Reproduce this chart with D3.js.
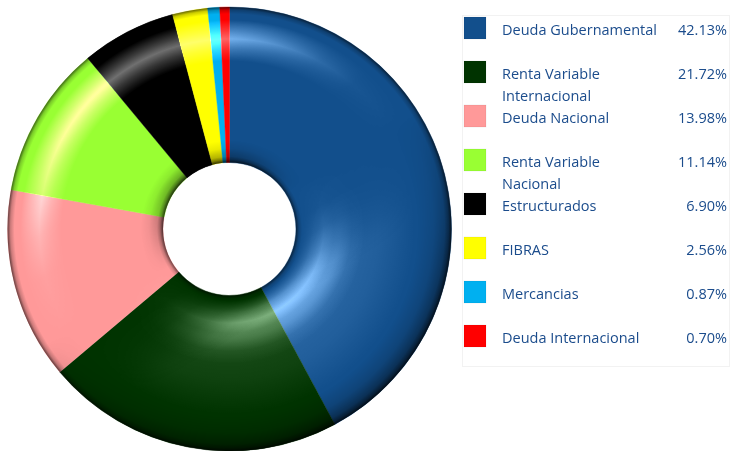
<!DOCTYPE html>
<html>
<head>
<meta charset="utf-8">
<script src="https://cdn.jsdelivr.net/npm/d3@7"></script>
<style>
  body { margin: 0; background: #fff; }
  svg { display: block; }
</style>
</head>
<body>
<svg id="chart"></svg>
<script>
// data
var categories = ["Deuda Gubernamental", "Renta Variable Internacional", "Deuda Nacional",
    "Renta Variable Nacional", "Estructurados", "FIBRAS", "Mercancias", "Deuda Internacional"];
var shares = [42.13, 21.72, 13.98, 11.14, 6.90, 2.56, 0.87, 0.70];
var colors = ["#124f8c", "#003300", "#ff9999", "#99ff33", "#000000", "#ffff00", "#00b0f0", "#ff0000"];

var width = 731, height = 451;
var cx = 229.5, cy = 229, outerR = 222, innerR = 66.5;

var svg = d3.select('#chart')
    .attr("width", width)
    .attr("height", height);

var defs = svg.append('defs');

// light comes from the top left (angle measured clockwise from 12 o'clock)
var lightAngle = 328 * Math.PI / 180;
var lx = Math.sin(lightAngle) * outerR, ly = -Math.cos(lightAngle) * outerR;

// radial profiles: [radius, opacity]
function radial(id, stops) {
    var g = defs.append('radialGradient')
        .attr('id', id)
        .attr('gradientUnits', 'userSpaceOnUse')
        .attr('cx', 0).attr('cy', 0).attr('r', outerR);
    g.selectAll('stop')
        .data(stops)
        .enter()
        .append('stop')
        .attr('offset', d => d[0] / outerR)
        .attr('stop-color', d => d[2] || '#fff')
        .attr('stop-opacity', d => d[1]);
}

// directional masks: [offset along light axis, opacity]
function dirMask(id, stops) {
    var g = defs.append('linearGradient')
        .attr('id', id + 'G')
        .attr('gradientUnits', 'userSpaceOnUse')
        .attr('x1', lx).attr('y1', ly)
        .attr('x2', -lx).attr('y2', -ly);
    g.selectAll('stop')
        .data(stops)
        .enter()
        .append('stop')
        .attr('offset', d => d[0])
        .attr('stop-color', '#fff')
        .attr('stop-opacity', d => d[1]);
    defs.append('mask')
        .attr('id', id)
        .attr('maskUnits', 'userSpaceOnUse')
        .attr('x', -outerR - 2).attr('y', -outerR - 2)
        .attr('width', 2 * outerR + 4).attr('height', 2 * outerR + 4)
        .append('rect')
        .attr('x', -outerR - 2).attr('y', -outerR - 2)
        .attr('width', 2 * outerR + 4).attr('height', 2 * outerR + 4)
        .attr('fill', `url(#${id}G)`);
}

radial('rimAll', [[innerR, 0.55, '#000'], [innerR + 3, 0.15, '#000'], [innerR + 6, 0, '#000'],
    [outerR - 7, 0, '#000'], [outerR - 3, 0.2, '#000'], [outerR, 0.6, '#000']]);
radial('rimOuter', [[outerR - 34, 0, '#000'], [outerR - 18, 0.15, '#000'], [outerR - 7, 0.4, '#000'], [outerR, 0.6, '#000']]);
radial('rimInner', [[innerR, 0.6, '#000'], [innerR + 6, 0.3, '#000'], [innerR + 14, 0.08, '#000'], [innerR + 22, 0, '#000']]);
radial('glowOuter', [[168, 0], [180, 0.22], [190, 0.44], [198, 0.24], [209, 0]]);
radial('glowInner', [[72, 0], [84, 0.3], [94, 0.45], [104, 0.25], [122, 0.05], [135, 0]]);
radial('glowBroad', [[80, 0], [110, 0.1], [150, 0.06], [185, 0]]);

dirMask('lightSide', [[0, 1], [0.072, 1], [0.128, 0.9], [0.2, 0.6], [0.286, 0.25], [0.37, 0.06], [0.5, 0]]);
dirMask('shadeSide', [[0.5, 0], [0.564, 0.05], [0.607, 0.2], [0.65, 0.5], [0.686, 0.85], [0.714, 1], [1, 1]]);
dirMask('shadeOuter', [[0.5, 0], [0.65, 0.35], [0.8, 0.75], [1, 1]]);
dirMask('shadeInner', [[0, 1], [0.34, 1], [0.42, 0.5], [0.5, 0]]);

var pie = d3.pie()
    .sort(null)
    .value(d => d);

var arc = d3.arc()
    .innerRadius(innerR)
    .outerRadius(outerR);

var pieArea = svg.append('g')
    .attr('transform', `translate(${cx},${cy})`);

pieArea.append('g')
    .selectAll('path')
    .data(pie(shares))
    .enter()
    .append('path')
    .attr('d', arc)
    .attr('fill', (d, i) => colors[i])
    .attr('stroke', (d, i) => colors[i])
    .attr('stroke-width', 0.4);

// shading layers over the ring
var ring = arc({startAngle: 0, endAngle: 2 * Math.PI});
var layers = [
    {fill: 'glowBroad', mask: 'shadeSide', blend: 'plus-lighter'},
    {fill: 'glowOuter', mask: 'lightSide', blend: 'plus-lighter'},
    {fill: 'glowInner', mask: 'shadeSide', blend: 'plus-lighter'},
    {fill: 'rimOuter', mask: 'shadeOuter', blend: 'normal'},
    {fill: 'rimInner', mask: 'shadeInner', blend: 'normal'},
    {fill: 'rimAll', mask: null, blend: 'normal'}
];
pieArea.append('g')
    .selectAll('path')
    .data(layers)
    .enter()
    .append('path')
    .attr('d', ring)
    .attr('fill', d => `url(#${d.fill})`)
    .attr('mask', d => d.mask ? `url(#${d.mask})` : null)
    .style('mix-blend-mode', d => d.blend);

// legend
var legend = svg.append('g');
legend.append('rect')
    .attr('x', 462.5).attr('y', 15.5)
    .attr('width', 267).attr('height', 351)
    .attr('fill', 'none')
    .attr('stroke', '#e4e4e4')
    .attr('stroke-dasharray', '1,1');

var rowY = d3.scaleLinear()
    .domain([0, 1])
    .range([17, 61]);

var rows = legend.selectAll('g.row')
    .data(categories)
    .enter()
    .append('g')
    .attr('class', 'row')
    .attr('transform', (d, i) => `translate(0,${rowY(i)})`);

rows.append('rect')
    .attr('x', 464).attr('y', 0)
    .attr('width', 22).attr('height', 22)
    .attr('fill', (d, i) => colors[i])
    .attr('stroke', 'rgba(0,0,0,0.12)')
    .attr('stroke-width', 0.5);

var textStyle = function (sel) {
    sel.style('font-family', '"Open Sans", "Noto Sans", sans-serif')
        .style('font-size', '14.5px')
        .attr('fill', '#1b4c8c');
};

rows.append('text')
    .attr('x', 502)
    .attr('y', 17.5)
    .call(textStyle)
    .each(function (d) {
        // wrap long names onto a second line
        var el = d3.select(this);
        var words = d.split(' ');
        var line = [];
        var tspan = el.append('tspan').attr('x', 502).attr('dy', 0);
        words.forEach(function (w) {
            line.push(w);
            tspan.text(line.join(' '));
            if (tspan.node().getComputedTextLength() > 158 && line.length > 1) {
                line.pop();
                tspan.text(line.join(' '));
                line = [w];
                tspan = el.append('tspan').attr('x', 502).attr('dy', 22).text(w);
            }
        });
    });

rows.append('text')
    .attr('x', 727)
    .attr('y', 17.5)
    .attr('text-anchor', 'end')
    .call(textStyle)
    .text((d, i) => shares[i].toFixed(2) + '%');
</script>
</body>
</html>
